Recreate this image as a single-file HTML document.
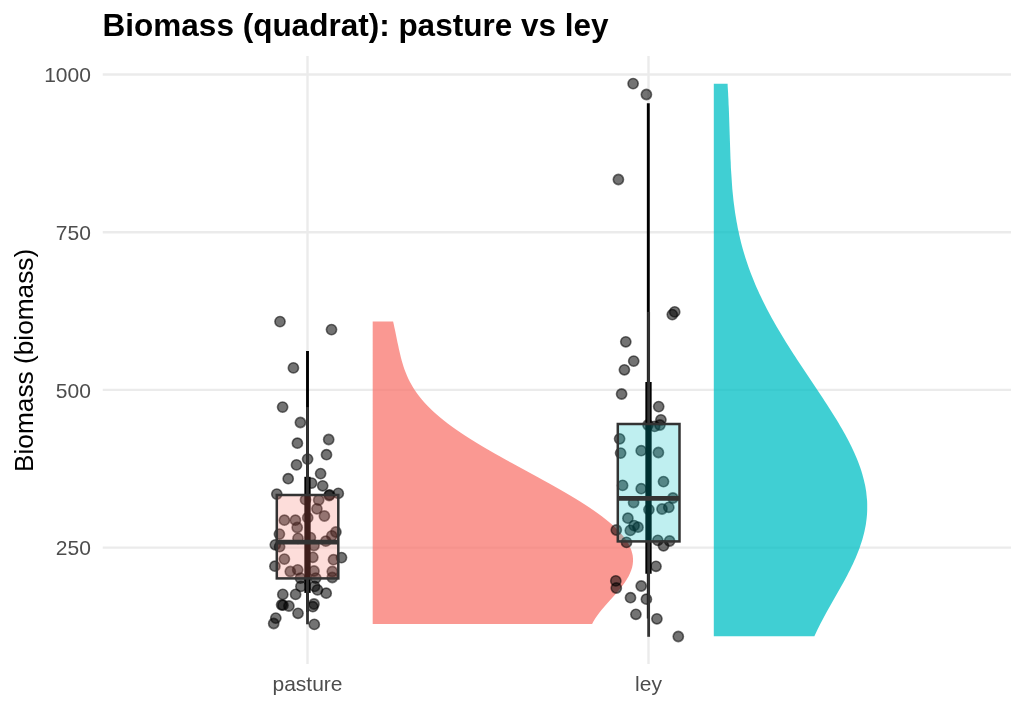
<!DOCTYPE html>
<html>
<head>
<meta charset="utf-8">
<title>Biomass (quadrat): pasture vs ley</title>
<style>
html,body{margin:0;padding:0;background:#fff;}
body{width:1024px;height:709px;overflow:hidden;}
svg{display:block;}
text{font-family:"Liberation Sans",sans-serif;}
.tick{font-size:21px;fill:#4d4d4d;}
.grid line{stroke:#ebebeb;stroke-width:2.4;}
.pt circle{fill:#000;fill-opacity:.55;stroke:#000;stroke-opacity:.55;stroke-width:1.6;}
</style>
</head>
<body>
<svg width="1024" height="709" viewBox="0 0 1024 709">
<rect width="1024" height="709" fill="#fff"/>
<text x="102.6" y="35.5" font-size="31.5" font-weight="bold" fill="#000">Biomass (quadrat): pasture vs ley</text>
<g class="grid">
<line x1="102.75" x2="1011" y1="74.5" y2="74.5"/>
<line x1="102.75" x2="1011" y1="232.2" y2="232.2"/>
<line x1="102.75" x2="1011" y1="389.9" y2="389.9"/>
<line x1="102.75" x2="1011" y1="547.6" y2="547.6"/>
<line x1="307.5" x2="307.5" y1="56" y2="664"/>
<line x1="648.5" x2="648.5" y1="56" y2="664"/>
</g>
<g class="tick" text-anchor="end">
<text x="90.9" y="82.3">1000</text>
<text x="90.9" y="240">750</text>
<text x="90.9" y="397.7">500</text>
<text x="90.9" y="555.4">250</text>
</g>
<g class="tick" text-anchor="middle">
<text x="307.5" y="691.2">pasture</text>
<text x="648.5" y="691.2">ley</text>
</g>
<text transform="translate(32.6,360.4) rotate(-90)" text-anchor="middle" font-size="26.25" fill="#000">Biomass (biomass)</text>
<!--DATA0-->
<path d="M372.7,321.6L393.1,321.6L393.8,324.6L394.4,327.6L395.1,330.6L395.7,333.6L396.3,336.6L396.9,339.6L397.5,342.6L398.2,345.6L398.8,348.6L399.5,351.6L400.2,354.6L400.9,357.6L401.7,360.6L402.6,363.6L403.5,366.6L404.5,369.6L405.7,372.6L406.9,375.6L408.2,378.6L409.7,381.6L411.4,384.6L413.1,387.6L415.0,390.6L417.1,393.6L419.4,396.6L421.8,399.6L424.4,402.6L427.2,405.6L430.2,408.6L433.3,411.6L436.7,414.6L440.2,417.6L443.9,420.6L447.7,423.6L451.8,426.6L456.0,429.6L460.4,432.6L464.9,435.6L469.6,438.6L474.4,441.6L479.3,444.6L484.3,447.6L489.5,450.6L494.7,453.6L500.1,456.6L505.4,459.6L510.9,462.6L516.4,465.6L521.9,468.6L527.4,471.6L532.9,474.6L538.4,477.6L543.8,480.6L549.3,483.6L554.6,486.6L559.9,489.6L565.1,492.6L570.2,495.6L575.2,498.6L580.1,501.6L584.8,504.6L589.4,507.6L593.8,510.6L598.0,513.5L602.1,516.5L605.9,519.5L609.6,522.5L613.0,525.5L616.2,528.5L619.2,531.5L621.8,534.5L624.3,537.5L626.4,540.5L628.3,543.5L629.8,546.5L631.1,549.5L632.0,552.5L632.7,555.5L633.0,558.5L633.0,561.5L632.7,564.5L632.1,567.5L631.1,570.5L629.9,573.5L628.5,576.5L626.7,579.5L624.8,582.5L622.6,585.5L620.3,588.5L617.8,591.5L615.2,594.5L612.5,597.5L609.8,600.5L607.1,603.5L604.5,606.5L601.9,609.5L599.5,612.5L597.3,615.5L595.2,618.5L593.4,621.5L592.1,624.0L372.7,624.0Z" fill="#F8766D" fill-opacity=".75"/>
<path d="M713.8,83.8L727.6,83.8L727.7,86.8L727.9,89.8L728.1,92.8L728.2,95.8L728.4,98.8L728.5,101.8L728.6,104.8L728.8,107.8L728.9,110.8L729.0,113.8L729.1,116.8L729.2,119.8L729.3,122.8L729.4,125.8L729.5,128.8L729.6,131.8L729.7,134.8L729.8,137.8L729.9,140.8L730.0,143.8L730.1,146.8L730.2,149.8L730.3,152.8L730.4,155.8L730.5,158.8L730.7,161.8L730.8,164.8L730.9,167.8L731.1,170.8L731.3,173.8L731.5,176.8L731.7,179.8L731.9,182.8L732.1,185.8L732.3,188.8L732.6,191.8L732.9,194.8L733.2,197.8L733.5,200.8L733.9,203.8L734.3,206.8L734.7,209.8L735.1,212.8L735.6,215.8L736.1,218.8L736.6,221.8L737.2,224.8L737.7,227.8L738.4,230.8L739.0,233.8L739.7,236.8L740.4,239.8L741.1,242.8L741.9,245.8L742.7,248.8L743.6,251.8L744.5,254.8L745.4,257.8L746.4,260.8L747.4,263.8L748.4,266.8L749.5,269.8L750.6,272.8L751.8,275.8L753.0,278.8L754.2,281.8L755.4,284.8L756.7,287.8L758.1,290.8L759.4,293.8L760.9,296.8L762.3,299.8L763.8,302.8L765.3,305.8L766.8,308.8L768.4,311.8L770.0,314.8L771.6,317.8L773.3,320.8L775.0,323.8L776.7,326.8L778.5,329.8L780.3,332.8L782.1,335.8L783.9,338.8L785.7,341.8L787.6,344.8L789.5,347.8L791.4,350.8L793.3,353.8L795.3,356.8L797.2,359.8L799.2,362.8L801.2,365.8L803.2,368.8L805.2,371.8L807.2,374.8L809.2,377.8L811.2,380.8L813.2,383.8L815.2,386.8L817.2,389.8L819.2,392.8L821.2,395.8L823.2,398.8L825.1,401.8L827.1,404.8L829.0,407.8L830.9,410.8L832.8,413.8L834.7,416.8L836.6,419.8L838.4,422.8L840.1,425.8L841.9,428.8L843.6,431.8L845.3,434.8L846.9,437.8L848.5,440.8L850.0,443.8L851.5,446.8L852.9,449.8L854.3,452.8L855.6,455.8L856.9,458.8L858.1,461.8L859.2,464.8L860.3,467.8L861.3,470.8L862.2,473.8L863.0,476.8L863.8,479.8L864.5,482.8L865.2,485.8L865.7,488.8L866.2,491.8L866.5,494.8L866.8,497.8L867.1,500.8L867.2,503.8L867.2,506.8L867.2,509.8L867.1,512.8L866.9,515.8L866.6,518.8L866.2,521.8L865.8,524.8L865.2,527.8L864.6,530.8L863.9,533.8L863.1,536.8L862.3,539.8L861.3,542.8L860.3,545.8L859.3,548.8L858.1,551.8L856.9,554.8L855.7,557.8L854.3,560.8L853.0,563.8L851.5,566.8L850.1,569.8L848.5,572.8L847.0,575.8L845.4,578.8L843.8,581.8L842.1,584.8L840.4,587.8L838.7,590.8L837.0,593.8L835.3,596.8L833.6,599.8L831.9,602.8L830.2,605.8L828.5,608.8L826.8,611.8L825.2,614.8L823.6,617.8L822.0,620.8L820.4,623.8L818.9,626.8L817.4,629.8L816.0,632.8L814.6,635.8L814.4,636.2L713.8,636.2Z" fill="#00BFC4" fill-opacity=".75"/>
<g class="pt">
<circle cx="280.0" cy="321.6" r="5.1"/>
<circle cx="331.5" cy="329.6" r="5.1"/>
<circle cx="293.4" cy="367.9" r="5.1"/>
<circle cx="282.6" cy="407.1" r="5.1"/>
<circle cx="300.4" cy="422.5" r="5.1"/>
<circle cx="297.4" cy="443.2" r="5.1"/>
<circle cx="328.7" cy="439.5" r="5.1"/>
<circle cx="326.5" cy="454.7" r="5.1"/>
<circle cx="307.6" cy="459.1" r="5.1"/>
<circle cx="296.5" cy="464.9" r="5.1"/>
<circle cx="288.2" cy="478.7" r="5.1"/>
<circle cx="320.6" cy="473.6" r="5.1"/>
<circle cx="311.6" cy="483.1" r="5.1"/>
<circle cx="322.7" cy="485.8" r="5.1"/>
<circle cx="276.8" cy="494.1" r="5.1"/>
<circle cx="338.3" cy="493.4" r="5.1"/>
<circle cx="329.1" cy="495.5" r="5.1"/>
<circle cx="329.6" cy="494.8" r="5.1"/>
<circle cx="305.5" cy="499.7" r="5.1"/>
<circle cx="318.7" cy="500.0" r="5.1"/>
<circle cx="316.9" cy="508.8" r="5.1"/>
<circle cx="324.4" cy="516.0" r="5.1"/>
<circle cx="284.4" cy="520.2" r="5.1"/>
<circle cx="295.4" cy="520.2" r="5.1"/>
<circle cx="307.7" cy="517.7" r="5.1"/>
<circle cx="297.2" cy="527.5" r="5.1"/>
<circle cx="279.4" cy="534.1" r="5.1"/>
<circle cx="335.9" cy="532.0" r="5.1"/>
<circle cx="298.0" cy="538.4" r="5.1"/>
<circle cx="310.4" cy="537.6" r="5.1"/>
<circle cx="325.8" cy="541.2" r="5.1"/>
<circle cx="331.8" cy="535.8" r="5.1"/>
<circle cx="275.3" cy="544.8" r="5.1"/>
<circle cx="279.6" cy="546.7" r="5.1"/>
<circle cx="314.0" cy="545.5" r="5.1"/>
<circle cx="284.4" cy="559.1" r="5.1"/>
<circle cx="312.8" cy="557.3" r="5.1"/>
<circle cx="333.5" cy="559.7" r="5.1"/>
<circle cx="341.5" cy="557.6" r="5.1"/>
<circle cx="274.9" cy="566.2" r="5.1"/>
<circle cx="290.3" cy="571.5" r="5.1"/>
<circle cx="297.7" cy="569.8" r="5.1"/>
<circle cx="314.0" cy="571.0" r="5.1"/>
<circle cx="332.3" cy="571.5" r="5.1"/>
<circle cx="332.3" cy="577.5" r="5.1"/>
<circle cx="300.4" cy="578.1" r="5.1"/>
<circle cx="315.8" cy="578.1" r="5.1"/>
<circle cx="300.9" cy="586.4" r="5.1"/>
<circle cx="314.6" cy="586.4" r="5.1"/>
<circle cx="317.5" cy="589.9" r="5.1"/>
<circle cx="282.8" cy="594.4" r="5.1"/>
<circle cx="295.6" cy="594.4" r="5.1"/>
<circle cx="326.2" cy="593.2" r="5.1"/>
<circle cx="281.6" cy="604.8" r="5.1"/>
<circle cx="283.0" cy="605.2" r="5.1"/>
<circle cx="288.9" cy="606.0" r="5.1"/>
<circle cx="314.0" cy="604.0" r="5.1"/>
<circle cx="312.8" cy="606.7" r="5.1"/>
<circle cx="298.0" cy="613.3" r="5.1"/>
<circle cx="275.8" cy="618.1" r="5.1"/>
<circle cx="273.7" cy="623.5" r="5.1"/>
<circle cx="314.3" cy="624.4" r="5.1"/>
<circle cx="633.1" cy="83.6" r="5.1"/>
<circle cx="646.4" cy="94.5" r="5.1"/>
<circle cx="618.4" cy="179.5" r="5.1"/>
<circle cx="674.7" cy="311.9" r="5.1"/>
<circle cx="672.3" cy="314.6" r="5.1"/>
<circle cx="625.8" cy="341.8" r="5.1"/>
<circle cx="633.7" cy="361.1" r="5.1"/>
<circle cx="624.4" cy="369.8" r="5.1"/>
<circle cx="621.6" cy="394.0" r="5.1"/>
<circle cx="658.7" cy="406.6" r="5.1"/>
<circle cx="660.9" cy="419.8" r="5.1"/>
<circle cx="659.9" cy="425.0" r="5.1"/>
<circle cx="654.6" cy="426.4" r="5.1"/>
<circle cx="648.0" cy="425.0" r="5.1"/>
<circle cx="619.6" cy="438.8" r="5.1"/>
<circle cx="620.6" cy="453.1" r="5.1"/>
<circle cx="641.2" cy="450.7" r="5.1"/>
<circle cx="658.4" cy="452.5" r="5.1"/>
<circle cx="622.6" cy="485.4" r="5.1"/>
<circle cx="663.5" cy="481.6" r="5.1"/>
<circle cx="641.2" cy="488.7" r="5.1"/>
<circle cx="672.9" cy="498.0" r="5.1"/>
<circle cx="633.6" cy="502.5" r="5.1"/>
<circle cx="648.9" cy="509.6" r="5.1"/>
<circle cx="662.0" cy="509.0" r="5.1"/>
<circle cx="668.8" cy="507.3" r="5.1"/>
<circle cx="627.9" cy="518.2" r="5.1"/>
<circle cx="634.1" cy="525.6" r="5.1"/>
<circle cx="638.0" cy="527.2" r="5.1"/>
<circle cx="630.3" cy="530.4" r="5.1"/>
<circle cx="616.3" cy="530.0" r="5.1"/>
<circle cx="626.5" cy="542.4" r="5.1"/>
<circle cx="657.8" cy="540.4" r="5.1"/>
<circle cx="669.6" cy="541.0" r="5.1"/>
<circle cx="663.5" cy="545.8" r="5.1"/>
<circle cx="656.0" cy="566.3" r="5.1"/>
<circle cx="615.8" cy="580.9" r="5.1"/>
<circle cx="616.3" cy="588.0" r="5.1"/>
<circle cx="641.2" cy="586.0" r="5.1"/>
<circle cx="630.5" cy="597.7" r="5.1"/>
<circle cx="646.4" cy="599.2" r="5.1"/>
<circle cx="635.9" cy="614.3" r="5.1"/>
<circle cx="656.9" cy="618.8" r="5.1"/>
<circle cx="678.3" cy="636.5" r="5.1"/>
</g>
<g stroke="#000" fill="none">
<line x1="307.5" x2="307.5" y1="350.9" y2="612" stroke-width="2.9"/>
<line x1="307.5" x2="307.5" y1="476.8" y2="592.9" stroke-width="6.3"/>
<line x1="648.3" x2="648.3" y1="103.2" y2="618.5" stroke-width="2.9"/>
<line x1="648.5" x2="648.5" y1="381.9" y2="573.8" stroke-width="6.3"/>
</g>
<g stroke="#333" stroke-width="2.5" fill="none">
<line x1="307.5" x2="307.5" y1="407.1" y2="495.0" stroke-width="2.8"/>
<line x1="307.5" x2="307.5" y1="578.4" y2="624.3" stroke-width="2.8"/>
<rect x="276.8" y="495.0" width="61.5" height="83.4" fill="#F8766D" fill-opacity=".25" stroke-linejoin="miter"/>
<line x1="276.8" x2="338.3" y1="542.2" y2="542.2" stroke-width="4.8"/>
</g>
<g stroke="#333" stroke-width="2.5" fill="none">
<line x1="648.65" x2="648.65" y1="311.9" y2="424.0" stroke-width="2.8"/>
<line x1="648.65" x2="648.65" y1="541.4" y2="636.8" stroke-width="2.8"/>
<rect x="617.8" y="424.0" width="61.7" height="117.4" fill="#00BFC4" fill-opacity=".25" stroke-linejoin="miter"/>
<line x1="617.8" x2="679.5" y1="498.4" y2="498.4" stroke-width="4.8"/>
</g>
<!--DATA1-->
</svg>
</body>
</html>
